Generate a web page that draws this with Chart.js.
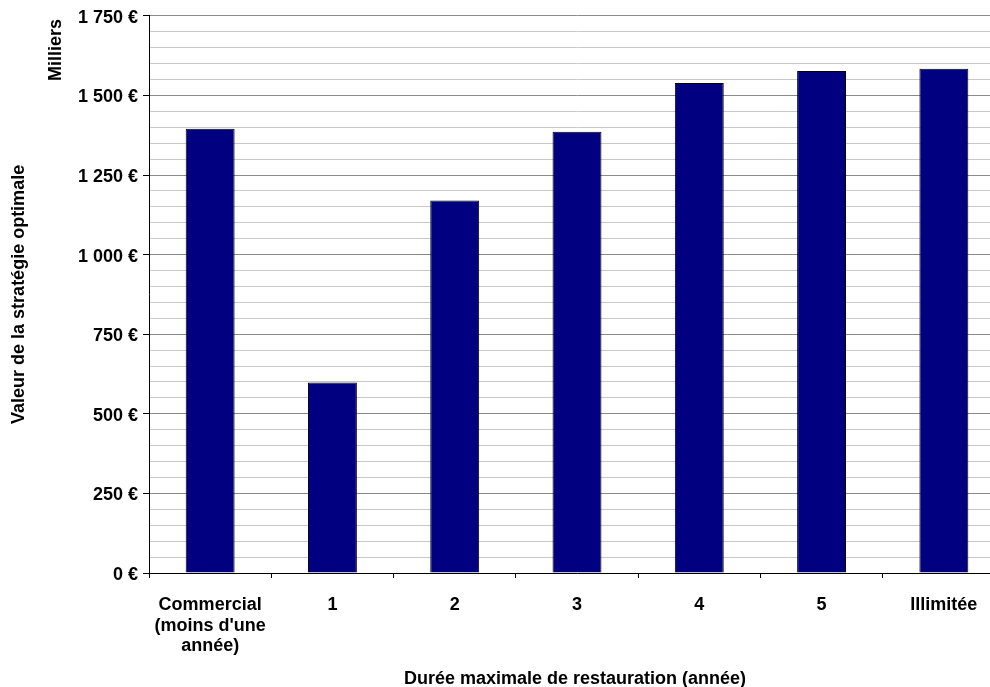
<!DOCTYPE html>
<html lang="fr">
<head>
<meta charset="utf-8">
<title>Valeur de la stratégie optimale</title>
<script src="https://cdn.jsdelivr.net/npm/chart.js@4/dist/chart.umd.min.js"></script>
<style>
  html, body { margin: 0; padding: 0; background: #ffffff; overflow: hidden; }
  canvas { display: block; }
</style>
</head>
<body>
<canvas id="chart" width="1005" height="687"></canvas>
<script>
// Categories (maximum restoration duration) and optimal strategy values, in thousands of euros
const categories = [["Commercial", "(moins d'une", "année)"], "1", "2", "3", "4", "5", "Illimitée"];
const values = [1395, 598, 1170, 1386, 1539, 1577, 1584];

// Labelled y ticks (every 250), minor gridlines every 50
const yTickValues = [0, 250, 500, 750, 1000, 1250, 1500, 1750];
const yTickLabels = ["0 €", "250 €", "500 €", "750 €", "1 000 €", "1 250 €", "1 500 €", "1 750 €"];

const yTitle = "Valeur de la stratégie optimale";
const yUnit = "Milliers";
const xTitle = "Durée maximale de restauration (année)";

const FONT = "'Liberation Sans', Arial, Helvetica, sans-serif";

// Draws the axis titles and the unit label
const axisTitles = {
  id: "axisTitles",
  afterDraw(chart) {
    const ctx = chart.ctx;
    const area = chart.chartArea;
    ctx.save();
    ctx.fillStyle = "#000000";
    ctx.font = "bold 18px " + FONT;
    ctx.textAlign = "center";
    ctx.textBaseline = "alphabetic";

    // x title
    ctx.fillText(xTitle, 575, 684);

    // y title, rotated
    ctx.save();
    ctx.translate(24, (area.top + area.bottom) / 2);
    ctx.rotate(-Math.PI / 2);
    ctx.fillText(yTitle, 0, 0);
    ctx.restore();

    // unit label, rotated
    ctx.save();
    ctx.translate(61, 50);
    ctx.rotate(-Math.PI / 2);
    ctx.fillText(yUnit, 0, 0);
    ctx.restore();

    ctx.restore();
  }
};

const isMajor = (v) => yTickValues.indexOf(v) >= 0;

new Chart(document.getElementById("chart"), {
  type: "bar",
  data: {
    labels: categories,
    datasets: [{
      data: values,
      backgroundColor: "#000080",
      borderColor: "#000000",
      borderWidth: 1,
      barPercentage: 0.4,
      categoryPercentage: 1.0
    }]
  },
  options: {
    responsive: false,
    animation: false,
    devicePixelRatio: 1,
    layout: { padding: { top: 15, left: 0, right: 0, bottom: 0 } },
    plugins: {
      legend: { display: false },
      tooltip: { enabled: false },
      title: { display: false }
    },
    scales: {
      x: {
        offset: true,
        grid: {
          offset: true,
          drawOnChartArea: false,
          drawTicks: true,
          tickLength: 5,
          tickColor: "#000000",
          tickWidth: 1
        },
        border: { display: true, color: "#000000", width: 1 },
        ticks: {
          color: "#000000",
          padding: 17,
          maxRotation: 0,
          autoSkip: false,
          font: { family: FONT, size: 18, weight: "bold", lineHeight: 20.5 / 18 }
        },
        afterFit(scale) { scale.height = 114; }
      },
      y: {
        min: 0,
        max: 1750,
        grid: {
          color: (c) => isMajor(c.tick.value) ? "#8a8a8a" : "#c8c8c8",
          lineWidth: 1,
          drawTicks: true,
          tickLength: 6,
          tickColor: (c) => isMajor(c.tick.value) ? "#000000" : "rgba(0,0,0,0)"
        },
        border: { display: true, color: "#000000", width: 1 },
        ticks: {
          stepSize: 50,
          maxTicksLimit: 100,
          autoSkip: false,
          color: "#000000",
          padding: 5,
          labelOffset: 2,
          font: { family: FONT, size: 18, weight: "bold" },
          callback: (value) => {
            const i = yTickValues.indexOf(value);
            return i >= 0 ? yTickLabels[i] : "";
          }
        },
        afterFit(scale) { scale.width = 149; }
      }
    }
  },
  plugins: [axisTitles]
});
</script>
</body>
</html>
